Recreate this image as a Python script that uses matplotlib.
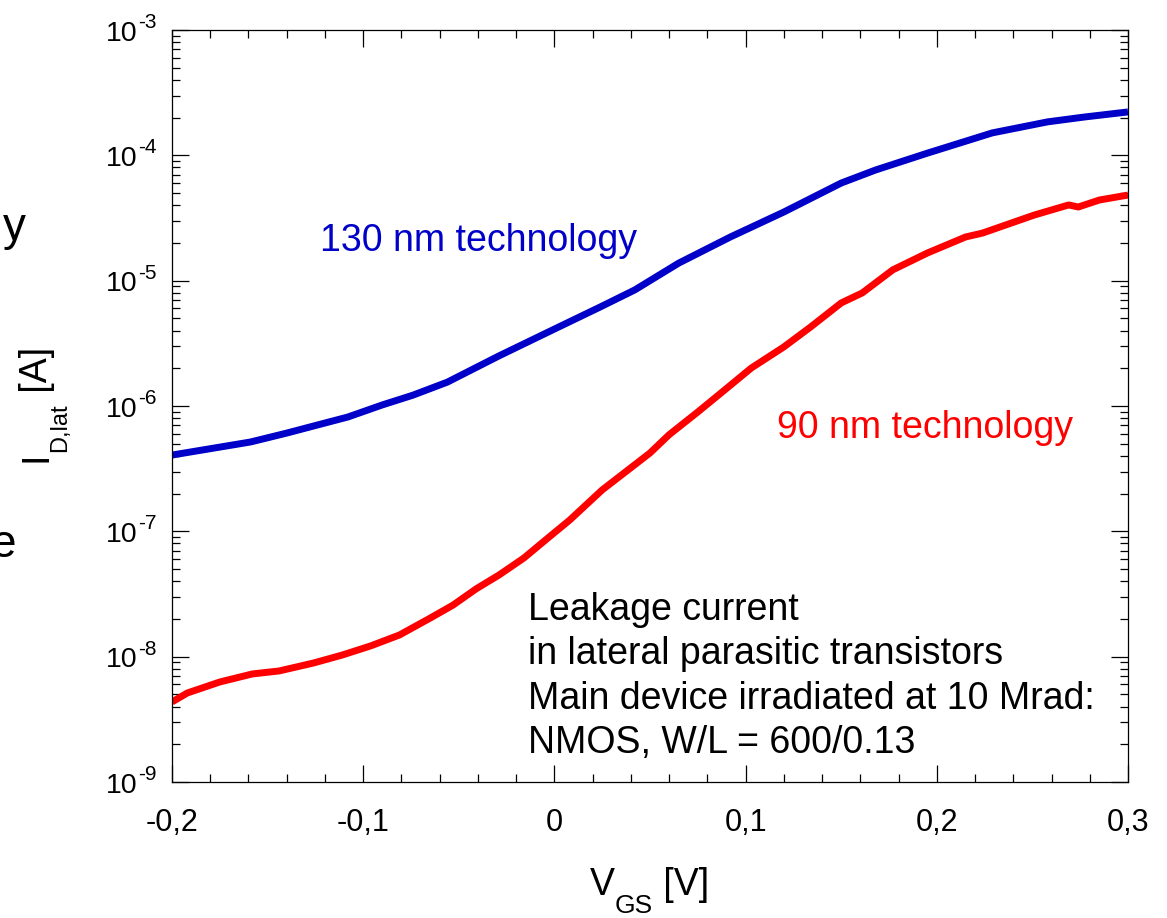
import numpy as np
import matplotlib.pyplot as plt
from matplotlib.ticker import FixedLocator, FixedFormatter, LogLocator, NullFormatter, MultipleLocator

plt.rcParams['font.family'] = ['Liberation Sans', 'DejaVu Sans']

# 130 nm curve
vgs_130 = [-0.200, -0.159, -0.140, -0.124, -0.108, -0.090, -0.074, -0.056, -0.029, 0.000,
           0.024, 0.042, 0.065, 0.092, 0.120, 0.150, 0.168, 0.195, 0.229, 0.258, 0.277, 0.300]
id_130 = [4.06e-7, 5.16e-7, 6.08e-7, 7.05e-7, 8.17e-7, 1.02e-6, 1.22e-6, 1.55e-6, 2.51e-6, 4.11e-6,
          6.17e-6, 8.43e-6, 1.38e-5, 2.23e-5, 3.53e-5, 6.01e-5, 7.64e-5, 1.04e-4, 1.51e-4, 1.85e-4,
          2.02e-4, 2.22e-4]

# 90 nm curve
vgs_90 = [-0.200, -0.192, -0.175, -0.158, -0.144, -0.126, -0.111, -0.096, -0.081, -0.065,
          -0.053, -0.041, -0.029, -0.016, -0.004, 0.008, 0.025, 0.050, 0.060, 0.075,
          0.089, 0.103, 0.120, 0.134, 0.150, 0.161, 0.177, 0.195, 0.215, 0.224,
          0.233, 0.251, 0.269, 0.274, 0.285, 0.300]
id_90 = [4.35e-9, 5.13e-9, 6.28e-9, 7.28e-9, 7.69e-9, 8.90e-9, 1.03e-8, 1.22e-8, 1.49e-8, 2.03e-8,
         2.58e-8, 3.47e-8, 4.48e-8, 6.12e-8, 8.69e-8, 1.23e-7, 2.14e-7, 4.22e-7, 5.90e-7, 8.96e-7,
         1.34e-6, 2.01e-6, 2.96e-6, 4.27e-6, 6.64e-6, 7.98e-6, 1.22e-5, 1.66e-5, 2.23e-5, 2.40e-5,
         2.68e-5, 3.34e-5, 4.02e-5, 3.87e-5, 4.40e-5, 4.82e-5]

xticks = [-0.2, -0.1, 0.0, 0.1, 0.2, 0.3]
xtick_labels = ['-0,2', '-0,1', '0', '0,1', '0,2', '0,3']
yticks = [1e-9, 1e-8, 1e-7, 1e-6, 1e-5, 1e-4, 1e-3]
ytick_exps = ['-9', '-8', '-7', '-6', '-5', '-4', '-3']

notes = ['Leakage current',
         'in lateral parasitic transistors',
         'Main device irradiated at 10 Mrad:',
         'NMOS, W/L = 600/0.13']

W, H = 1167, 918
fig = plt.figure(figsize=(W / 100, H / 100), dpi=100)
ax = fig.add_axes([172 / W, 1 - 782 / H, 956 / W, 752 / H])

blue = '#0000C8'
red = '#FF0000'
ax.plot(vgs_130, id_130, color=blue, lw=5, solid_capstyle='butt')
ax.plot(vgs_90, id_90, color=red, lw=5, solid_capstyle='butt')

ax.set_yscale('log')
ax.set_xlim(-0.2, 0.3)
ax.set_ylim(1e-9, 1e-3)

ax.xaxis.set_major_locator(FixedLocator(xticks))
ax.xaxis.set_major_formatter(FixedFormatter(xtick_labels))
ax.xaxis.set_minor_locator(MultipleLocator(0.02))
ax.yaxis.set_major_locator(FixedLocator(yticks))
ax.yaxis.set_major_formatter(NullFormatter())
ax.yaxis.set_minor_locator(LogLocator(base=10, subs=np.arange(2, 10), numticks=20))
ax.yaxis.set_minor_formatter(NullFormatter())

ax.tick_params(which='both', direction='in', top=True, right=True, width=0.9, colors='black')
ax.tick_params(which='major', length=12)
ax.tick_params(which='minor', length=6)
ax.tick_params(axis='x', which='major', labelsize=22, pad=19)
for s in ax.spines.values():
    s.set_linewidth(0.9)

# y tick labels: "10" with a hyphen exponent, like the original
ytr = ax.get_yaxis_transform()
for v, e in zip(yticks, ytick_exps):
    ax.annotate('10', xy=(0, v), xycoords=ytr, xytext=(-25.2, -7.6),
                textcoords='offset points', ha='right', va='baseline', fontsize=20.5)
    ax.annotate(e, xy=(0, v), xycoords=ytr, xytext=(-24.5, 1.4),
                textcoords='offset points', ha='left', va='baseline', fontsize=15)

# axis titles with low subscripts
vt = fig.text(590 / W, 1 - 895 / H, 'V', fontsize=27, va='baseline')
gs = ax.annotate('GS', xy=(1, H - 913), xycoords=(vt, 'figure pixels'),
                 fontsize=19, va='baseline', ha='left')
ax.annotate(' [V]', xy=(1, H - 895), xycoords=(gs, 'figure pixels'),
            fontsize=27, va='baseline', ha='left')

rot = dict(rotation=90, rotation_mode='anchor', ha='left', va='baseline')
it = fig.text(47 / W, 1 - 462 / H, 'I', fontsize=27, **rot)
sub = ax.annotate('D,lat', xy=(66, 1), xycoords=('figure pixels', it), fontsize=17, **rot)
ax.annotate(' [A]', xy=(47, 1), xycoords=('figure pixels', sub), fontsize=27, **rot)

def px(x, y):
    return x / W, 1 - y / H

fig.text(*px(320, 251), '130 nm technology', color=blue, fontsize=27, va='baseline')
fig.text(*px(777, 438), '90 nm technology', color=red, fontsize=27, va='baseline')
for i, line in enumerate(notes):
    fig.text(*px(528, 620 + i * 44.5), line, fontsize=27, va='baseline')

# pieces of text cut off at the left edge (as in the original)
fig.text(*px(3, 240), 'y', fontsize=33, va='baseline')
fig.text(*px(-9, 557), 'e', fontsize=33, va='baseline')

fig.savefig('out.png', dpi=100)
